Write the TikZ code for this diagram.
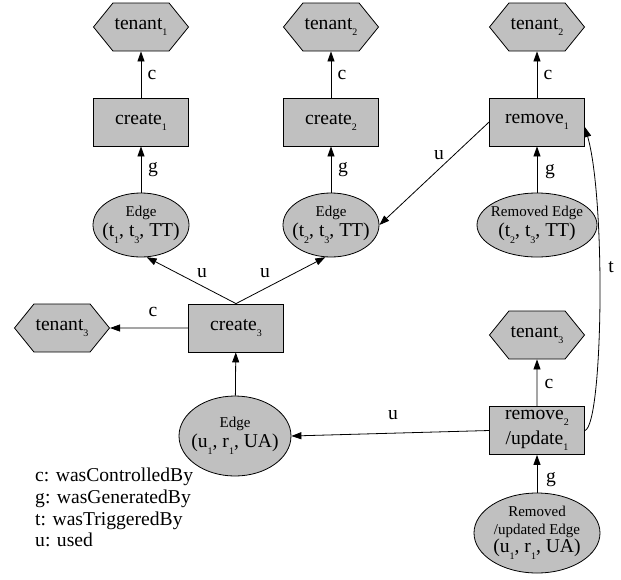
\documentclass[tikz,border=0pt]{standalone}
\usepackage{fontspec}
\setmainfont{Liberation Serif}
\usetikzlibrary{arrows.meta,shapes.geometric,shapes.symbols}
\definecolor{nodegray}{RGB}{192,192,192}
% lowered small index, as in tenant_1
\newcommand\sbx[1]{\raisebox{-6.5pt}{\fontsize{10}{10}\selectfont #1}}
\newcommand\bigsz{\fontsize{19.6}{22}\selectfont}
\newcommand\smallsz{\fontsize{15}{18}\selectfont}
\begin{document}
\begin{tikzpicture}[x=1pt,y=-1pt,font=\bigsz,
  hexnode/.style={shape=signal, signal to=west and east, signal from=nowhere,
    signal pointer angle=102, draw, fill=nodegray, line width=0.8pt,
    minimum width=95pt, minimum height=48pt, inner sep=0pt},
  boxnode/.style={draw, fill=nodegray, line width=0.8pt, minimum width=95pt,
    minimum height=48pt, inner sep=0pt, align=center},
  ovalnode/.style={ellipse, draw, fill=nodegray, line width=0.8pt, inner sep=0pt},
  ovaltext/.style={align=center, inner sep=0pt, font=\fontsize{19.6}{20}\selectfont},
  arr/.style={-{Triangle[length=10pt,width=7pt]}, line width=0.8pt},
  lbl/.style={inner sep=0pt}]
\useasboundingbox (0,0) rectangle (621,579);

% agents
\node[hexnode] (t1)  at (141,27)  {tenant\sbx{1}};
\node[hexnode] (t2)  at (331,27)  {tenant\sbx{2}};
\node[hexnode] (t2b) at (537,27)  {tenant\sbx{2}};
\node[hexnode] (t3)  at (62,328)  {tenant\sbx{3}};
\node[hexnode] (t3b) at (537,335) {tenant\sbx{3}};

% activities
\node[boxnode] (c1)  at (141,122) {create\sbx{1}};
\node[boxnode] (c2)  at (331,122) {create\sbx{2}};
\node[boxnode] (rm1) at (537,122) {remove\sbx{1}};
\node[boxnode] (c3)  at (236,328) {create\sbx{3}};
\node[boxnode, font=\fontsize{19.6}{25}\selectfont] (r2) at (537,430.5)
  {remove\sbx{2}\\/update\sbx{1}};

% entities
\node[ovalnode, minimum width=96pt, minimum height=64pt,
  label={[ovaltext]center:{{\smallsz Edge}\\(t\sbx{1}, t\sbx{3}, TT)}}] (e1) at (141,225) {};
\node[ovalnode, minimum width=96pt, minimum height=64pt,
  label={[ovaltext]center:{{\smallsz Edge}\\(t\sbx{2}, t\sbx{3}, TT)}}] (e2) at (331,225) {};
\node[ovalnode, minimum width=120pt, minimum height=64pt,
  label={[ovaltext]center:{{\smallsz Removed Edge}\\(t\sbx{2}, t\sbx{3}, TT)}}] (re) at (537,225) {};
\node[ovalnode, minimum width=112pt, minimum height=80pt,
  label={[ovaltext]center:{{\smallsz Edge}\\(u\sbx{1}, r\sbx{1}, UA)}}] (eu) at (235,436) {};
\node[ovalnode, minimum width=126pt, minimum height=80pt,
  label={[ovaltext, font=\fontsize{19.6}{18}\selectfont]center:{{\smallsz Removed}\\{\smallsz /updated Edge}\\(u\sbx{1}, r\sbx{1}, UA)}}] (ru) at (537,533) {};

% relations
\draw[arr] (c1) -- (t1) node[lbl, at={(152,75)}] {c};
\draw[arr] (e1) -- (c1) node[lbl, at={(153,170)}] {g};
\draw[arr] (c2) -- (t2) node[lbl, at={(342,75)}] {c};
\draw[arr] (e2) -- (c2) node[lbl, at={(343,170)}] {g};
\draw[arr] (rm1) -- (t2b) node[lbl, at={(548,75)}] {c};
\draw[arr] (re) -- (rm1) node[lbl, at={(550,172)}] {g};
\draw[arr] (rm1.west) -- (e2.east) node[lbl, at={(439,155)}] {u};
\draw[arr] (c3.north) -- (e1.-80) node[lbl, at={(202,273)}] {u};
\draw[arr] (c3.north) -- (e2.-100) node[lbl, at={(265,273)}] {u};
\draw[arr] (c3) -- (t3) node[lbl, at={(153,312)}] {c};
\draw[arr] (eu) -- (c3);
\draw[arr] (r2.west) -- (eu.east) node[lbl, at={(393,415)}] {u};
\draw[arr] (r2) -- (t3b) node[lbl, at={(549,384)}] {c};
\draw[arr] (ru) -- (r2) node[lbl, at={(551,480)}] {g};
\draw[arr] (r2.east) .. controls (603,425) and (606,200) .. (rm1.-6)
  node[lbl, at={(611,267)}] {t};

% key
\node[anchor=north west, align=left, inner sep=0pt, font=\fontsize{19.6}{21.7}\selectfont]
  (key) at (35,468) {c: wasControlledBy\\g: wasGeneratedBy\\t: wasTriggeredBy\\u: used};
\end{tikzpicture}
\end{document}
